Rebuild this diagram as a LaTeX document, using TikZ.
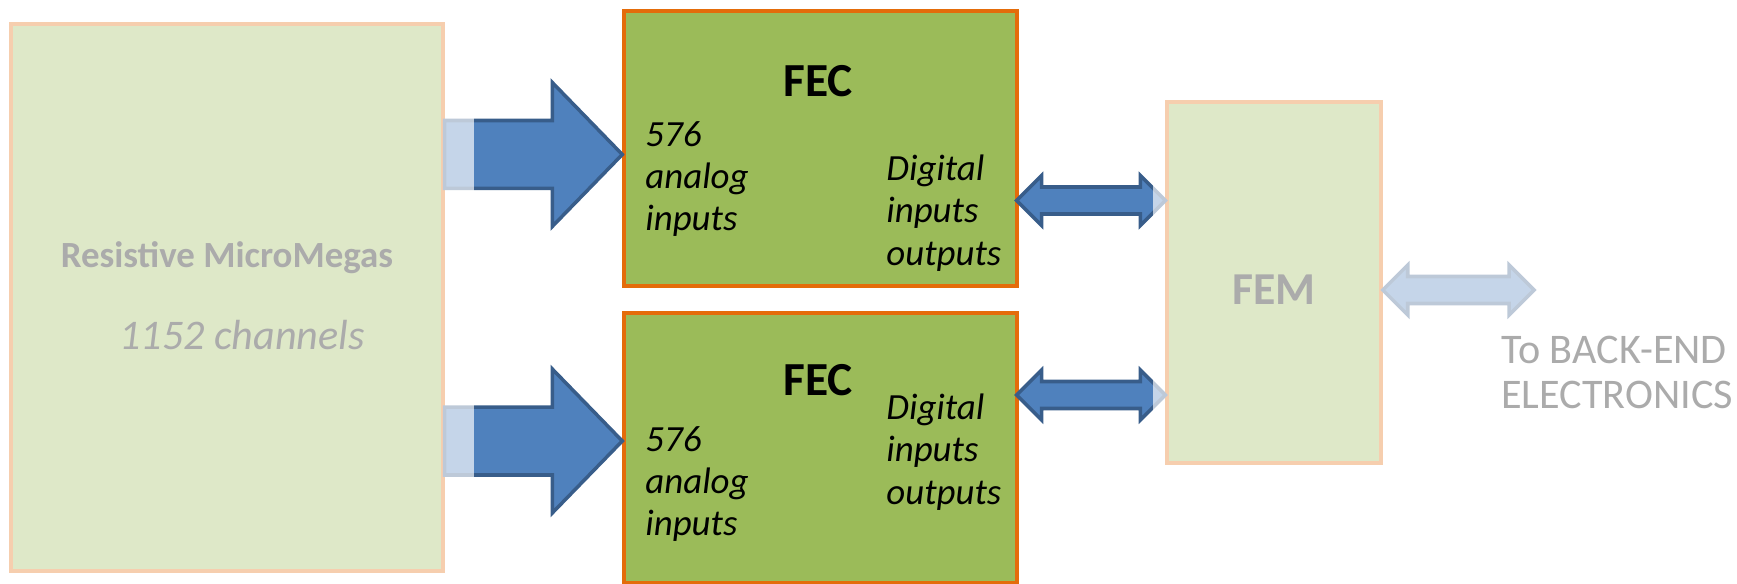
\documentclass[tikz,border=0pt]{standalone}
\usepackage{fontspec}
\setmainfont{Carlito}
\usetikzlibrary{calc}
\definecolor{fecgreen}{HTML}{9BBB59}
\definecolor{fecorange}{HTML}{E46C0A}
\definecolor{arrowblue}{HTML}{4F81BD}
\definecolor{arrowline}{HTML}{385D8A}
\tikzset{
	board/.style={draw=fecorange,fill=fecgreen,line width=2pt},
	arrowbody/.style={draw=arrowline,fill=arrowblue,line width=2pt,line join=miter},
	lbl/.style={inner sep=0pt,align=left,font=\fontsize{21}{24}\selectfont\itshape},
	title/.style={inner sep=0pt,font=\fontsize{27}{30}\selectfont\bfseries},
	faded/.style={fill=white,opacity=0.67}
}
\newcommand{\fatarrow}[2]{%
	\filldraw[arrowbody] let \p1=#1, \p2=#2 in
		(\x1,\y2+0.68cm)--(\x2-1.4cm,\y2+0.68cm)--(\x2-1.4cm,\y2+1.44cm)--(\x2,\y2)
		--(\x2-1.4cm,\y2-1.44cm)--(\x2-1.4cm,\y2-0.68cm)--(\x1,\y2-0.68cm)--cycle;}
\newcommand{\twoarrow}[2]{%
	\filldraw[arrowbody] let \p1=#1, \p2=#2 in
		(\x1,\y1)--(\x1+0.5cm,\y1+0.5cm)--(\x1+0.5cm,\y1+0.27cm)--(\x2-0.5cm,\y1+0.27cm)
		--(\x2-0.5cm,\y1+0.5cm)--(\x2,\y1)--(\x2-0.5cm,\y1-0.5cm)--(\x2-0.5cm,\y1-0.27cm)
		--(\x1+0.5cm,\y1-0.27cm)--(\x1+0.5cm,\y1-0.5cm)--cycle;}
\begin{document}
\begin{tikzpicture}[x=0.02cm,y=-0.02cm]
			\useasboundingbox (0,0) rectangle (1737,584);
			\node[board,minimum width=8.64cm,minimum height=10.94cm] (mm) at (227,297.5) {};
			\node[board,minimum width=7.86cm,minimum height=5.5cm] (fec1) at (820.5,148.5) {};
			\node[board,minimum width=7.86cm,minimum height=5.4cm] (fec2) at (820.5,448) {};
			\node[board,minimum width=4.28cm,minimum height=7.22cm] (fem) at (1274,282.5) {};
			\node[inner sep=0pt,font=\fontsize{21}{24}\selectfont\bfseries] (mmname) at (227,258) {Resistive MicroMegas};
			\node[inner sep=0pt,font=\fontsize{24}{28}\selectfont\itshape] (mmch) at (242,335) {1152 channels};
			\node[title] (fect1) at (818,81) {FEC};
			\node[title] (fect2) at (818,380) {FEC};
			\node[lbl,anchor=west] (ana1) at (645,179) {576\\analog\\inputs};
			\node[lbl,anchor=west] (ana2) at (645,484) {576\\analog\\inputs};
			\node[lbl,anchor=west] (dig1) at (886,213) {Digital\\inputs\\outputs};
			\node[lbl,anchor=west] (dig2) at (886,452) {Digital\\inputs\\outputs};
			\node[inner sep=0pt,font=\fontsize{26}{30}\selectfont\bfseries] (femt) at (1274,290) {FEM};
			\node[inner sep=0pt,align=left,anchor=west,font=\fontsize{24}{25.6}\selectfont] (be) at (1501,372.5) {To BACK-END\\ELECTRONICS};
			\coordinate (tip1) at ($(fec1.west)+(0,6)$);
			\coordinate (tip2) at ($(fec2.west)+(0,-7)$);
			\fatarrow{(mm.east)}{(tip1)}
			\fatarrow{(mm.east)}{(tip2)}
			\coordinate (io1) at ($(fec1.east)+(-2,52)$);
			\coordinate (io2) at ($(fec2.east)+(-2,-53)$);
			\twoarrow{(io1)}{(fem.west |- io1)}
			\twoarrow{(io2)}{(fem.west |- io2)}
			\coordinate (out) at ($(fem.east)+(0,7.5)$);
			\coordinate (outend) at (1534,290);
			\twoarrow{(out)}{(outend)}
			\fill[faded] (0,0) rectangle (474,584);
			\fill[faded] (1153,0) rectangle (1737,584);
		\end{tikzpicture}
\end{document}
